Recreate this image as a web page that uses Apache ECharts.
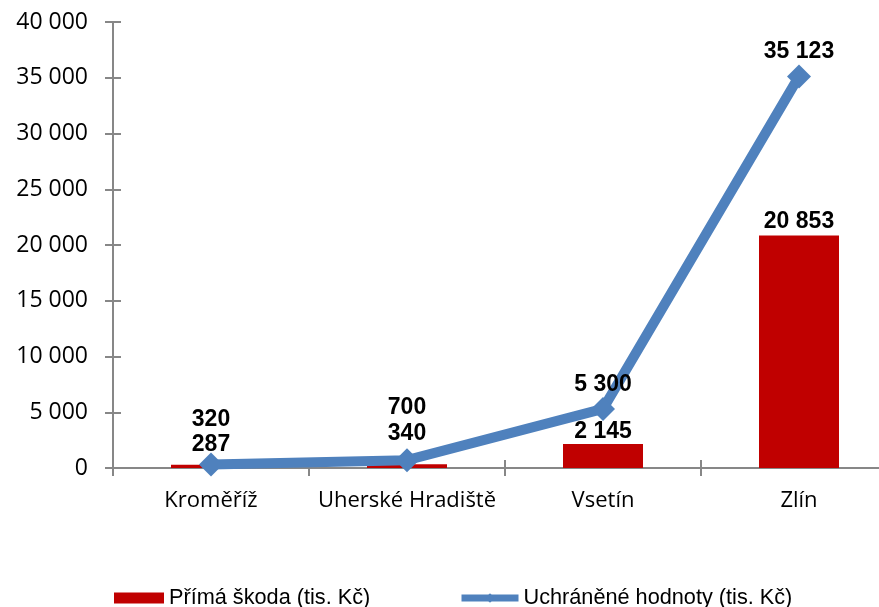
<!DOCTYPE html>
<html>
<head>
<meta charset="utf-8">
<script src="https://cdn.jsdelivr.net/npm/echarts@6/dist/echarts.min.js"></script>
<style>
    html, body { margin: 0; padding: 0; background: #fff; }
    #chart { width: 879px; height: 607px; }
</style>
</head>
<body>
<div id="chart"></div>
<script>
// kraje / okresy
var categories = ['Kroměříž', 'Uherské Hradiště', 'Vsetín', 'Zlín'];
// Přímá škoda (tis. Kč)
var skoda = [287, 340, 2145, 20853];
// Uchráněné hodnoty (tis. Kč)
var uchraneno = [320, 700, 5300, 35123];
// odsazení popisků (Excel je rozhazuje, aby se nepřekrývaly)
var skodaLabelGap = [9, 19, 1, 2];
var uchranenoLabelGap = [21, 29, 1, 1];

var yMin = 0, yMax = 40000, yStep = 5000;

function fmt(v) {
    return String(v).replace(/\B(?=(\d{3})+(?!\d))/g, ' ');
}

var axisColor = '#878787';
var legendFont = { fontFamily: 'Liberation Sans', fontSize: 21.7, color: '#000' };
var chart = echarts.init(document.getElementById('chart'));

var option = {
    animation: false,
    grid: { left: 113, width: 784, top: 22, bottom: 139, outerBoundsMode: 'none', containLabel: false },
    xAxis: [{
        type: 'category',
        data: categories,
        axisLine: { lineStyle: { color: axisColor, width: 2 } },
        axisTick: { show: true, length: 8, lineStyle: { color: axisColor, width: 2 } },
        axisLabel: { color: '#000', fontFamily: 'Open Sans', fontSize: 22, margin: 22, interval: 0 }
    }, {
        type: 'category',
        data: categories,
        position: 'bottom',
        axisLine: { show: false },
        axisTick: { show: true, inside: true, length: 8, lineStyle: { color: axisColor, width: 2 } },
        axisLabel: { show: false }
    }],
    yAxis: [{
        type: 'value',
        min: yMin, max: yMax, interval: yStep,
        splitLine: { show: false },
        axisLine: { show: true, lineStyle: { color: axisColor, width: 2 } },
        axisTick: { show: true, length: 8, lineStyle: { color: axisColor, width: 2 } },
        axisLabel: { color: '#000', fontFamily: 'Open Sans', fontSize: 23, margin: 25, formatter: fmt }
    }, {
        type: 'value',
        position: 'left',
        min: yMin, max: yMax, interval: yStep,
        splitLine: { show: false },
        axisLine: { show: false },
        axisTick: { show: true, inside: true, length: 8, lineStyle: { color: axisColor, width: 2 } },
        axisLabel: { show: false }
    }],
    legend: [{
        left: 109, top: 582,
        data: [{ name: 'Přímá škoda (tis. Kč)', icon: 'rect' }],
        itemWidth: 50, itemHeight: 11,
        textStyle: legendFont
    }, {
        left: 453, top: 582,
        data: ['Uchráněné hodnoty (tis. Kč)'],
        itemWidth: 57, itemHeight: 12,
        lineStyle: { width: 7 },
        textStyle: legendFont
    }],
    series: [{
        name: 'Přímá škoda (tis. Kč)',
        type: 'bar',
        barWidth: 80,
        itemStyle: { color: '#C00000' },
        data: skoda.map(function (v, i) {
            return { value: v, label: { distance: skodaLabelGap[i] } };
        }),
        label: {
            show: true, position: 'top',
            fontFamily: 'Liberation Sans', fontWeight: 'bold', fontSize: 23, color: '#000',
            formatter: function (p) { return fmt(p.value); }
        }
    }, {
        name: 'Uchráněné hodnoty (tis. Kč)',
        type: 'line',
        z: 5,
        symbol: 'diamond',
        symbolSize: 24,
        lineStyle: { color: '#4F81BD', width: 10 },
        itemStyle: { color: '#4F81BD' },
        data: uchraneno.map(function (v, i) {
            return { value: v, label: { distance: uchranenoLabelGap[i] } };
        }),
        label: {
            show: true, position: 'top',
            fontFamily: 'Liberation Sans', fontWeight: 'bold', fontSize: 23, color: '#000',
            formatter: function (p) { return fmt(p.value); }
        }
    }]
};

chart.setOption(option);
</script>
</body>
</html>
